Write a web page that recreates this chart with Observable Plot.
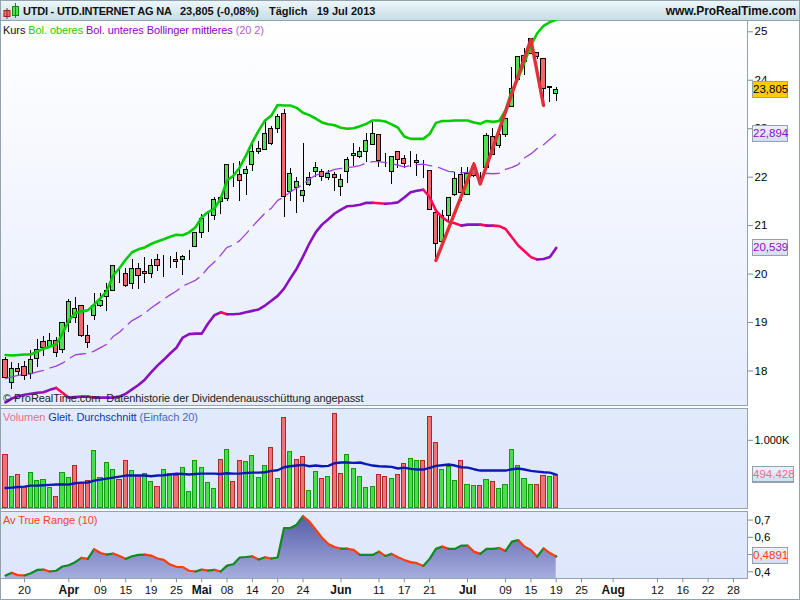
<!DOCTYPE html>
<html lang="de">
<head>
<meta charset="utf-8">
<script src="https://cdn.jsdelivr.net/npm/d3@7"></script>
<script src="https://cdn.jsdelivr.net/npm/@observablehq/plot@0.6"></script>
<style>
  html,body{margin:0;padding:0;background:#fff;overflow:hidden}
  #page{position:relative;width:800px;height:600px;overflow:hidden;font:11px "Liberation Sans",Arial,sans-serif;color:#111}
  .abs{position:absolute;white-space:pre}
  .panel{position:absolute;left:0;width:748px;box-sizing:border-box;border:1px solid #93a3ae}
  .plot{position:absolute;left:0}
  .plot svg{display:block}
  .tag{position:absolute;box-sizing:border-box;height:17px;line-height:15px;text-align:center;border:1px solid #93a3ae;white-space:pre;font-size:11.5px}
  .leg{letter-spacing:-0.08px;font-size:11px}
  .hd{font-weight:bold;top:5px;font-size:11px}
</style>
</head>
<body>
<div id="page">
  <svg width="0" height="0" style="position:absolute">
    <defs><linearGradient id="atrGrad" x1="0" y1="0" x2="0" y2="1">
      <stop offset="0" stop-color="#565ca8"/><stop offset="1" stop-color="#a6aedf"/>
    </linearGradient></defs>
  </svg>
  <div class="abs" style="left:0;top:0;width:800px;height:21px;box-sizing:border-box;border-top:1px solid #93a3ae;border-bottom:1px solid #93a3ae;background:linear-gradient(#edf7fa,#c6dde4)"></div>
  <svg class="abs" style="left:2px;top:2px" width="18" height="18">
    <rect x="2" y="8.5" width="6" height="6" fill="#ee6a6a" stroke="#a02020"/><path d="M5 6V17" stroke="#a02020"/>
    <rect x="10.5" y="4.5" width="6" height="9" fill="#55dd55" stroke="#118811"/><path d="M13.5 1V16" stroke="#118811"/>
  </svg>
  <div class="abs hd" style="left:23px;letter-spacing:-0.22px">UTDI - UTD.INTERNET AG NA</div>
  <div class="abs hd" style="left:180px">23,805 (-0,08%)</div>
  <div class="abs hd" style="left:269px">Täglich   19 Jul 2013</div>
  <div class="abs hd" style="right:4px;font-size:12px;letter-spacing:-0.1px;top:4px">www.ProRealTime.com</div>

  <div class="panel" style="top:20px;height:386px;background:linear-gradient(#ffffff,#e4ebfc)"></div>
  <div class="panel" style="top:408px;height:101px;background:linear-gradient(#e2eafd,#dde6fb)"></div>
  <div class="panel" style="top:511px;height:68px;background:linear-gradient(#e2eafd,#dde6fb)"></div>
  <div class="abs" style="left:799px;top:0;width:1px;height:600px;background:#93a3ae"></div>
  <div class="abs" style="left:0;top:0;width:1px;height:600px;background:#93a3ae"></div>
  <div class="abs" style="left:0;top:599px;width:800px;height:1px;background:#93a3ae"></div>

  <div class="plot" id="pricePlot" style="top:20px"></div>
  <div class="plot" id="volumePlot" style="top:408px"></div>
  <div class="plot" id="atrPlot" style="top:511.7px"></div>

  <div class="abs leg" style="left:3px;top:24px"><span style="color:#111">Kurs</span> <span style="color:#22cc00">Bol. oberes</span> <span style="color:#9000cc">Bol. unteres</span> <span style="color:#9000cc">Bollinger mittleres</span> <span style="color:#b060d8">(20 2)</span></div>
  <div class="abs leg" style="left:3px;top:392px;color:#222">© ProRealTime.com  Datenhistorie der Dividendenausschüttung angepasst</div>
  <div class="abs leg" style="left:3px;top:411px"><span style="color:#e8708a">Volumen</span> <span style="color:#1038b0">Gleit. Durchschnitt</span> <span style="color:#4a68c0">(Einfach 20)</span></div>
  <div class="abs leg" style="left:3px;top:514px;color:#ff4020">Av True Range (10)</div>
</div>
<script>
const open = [
18.23,17.75,18.05,18.09,17.93,18.24,18.59,18.50,18.61,18.44,
18.98,19.10,19.35,18.73,19.14,19.35,19.52,19.66,20.03,20.01,
19.80,20.11,20.05,20.01,20.28,20.22,20.27,20.29,20.28,20.45,
20.55,20.84,21.19,21.20,21.48,21.54,22.08,22.05,22.07,22.25,
22.51,22.55,23.00,23.00,23.31,21.70,21.77,21.62,21.83,22.10,
22.10,21.99,22.05,21.79,22.10,22.43,22.41,22.51,22.67,22.86,
22.32,22.10,22.51,22.38,22.30,22.34,22.10,22.12,21.25,20.67,
21.19,21.64,22.05,21.64,22.20,22.07,22.18,22.82,22.65,22.88,
23.44,24.01,24.51,24.86,24.57,24.43,23.87,23.71];
const close = [
17.85,18.05,17.97,17.89,18.22,18.44,18.48,18.61,18.38,18.98,
19.43,19.27,18.73,18.57,19.35,19.45,19.66,20.16,20.03,19.76,
20.11,19.95,20.01,20.16,20.16,20.22,20.27,20.25,20.36,20.45,
20.84,21.13,21.19,21.52,21.56,22.26,22.08,21.93,22.14,22.51,
22.59,22.90,22.69,23.25,21.58,22.07,21.91,21.72,21.99,22.18,
22.01,22.07,21.99,21.95,22.36,22.47,22.51,22.74,22.90,22.34,
22.32,22.41,22.36,22.28,22.30,22.30,22.10,21.33,20.63,21.19,
21.56,21.97,21.68,22.07,22.03,22.07,22.84,22.45,22.88,23.21,
23.81,24.47,24.37,24.55,24.47,23.81,23.83,23.805];
const high = [
18.28,18.17,18.15,18.19,18.42,18.65,18.71,18.77,18.69,19.00,
19.47,19.52,19.35,18.94,19.60,19.60,19.80,20.18,20.11,20.11,
20.30,20.22,20.34,20.30,20.40,20.38,20.36,20.44,20.38,20.49,
20.84,21.23,21.25,21.58,21.58,22.26,22.28,22.32,22.22,22.69,
22.74,23.15,23.05,23.29,23.40,22.17,21.99,22.69,22.10,22.30,
22.16,22.14,22.10,22.05,22.41,22.69,22.61,22.90,23.13,22.86,
22.49,22.41,22.51,22.45,22.53,22.47,22.34,22.12,21.25,21.31,
21.56,22.10,22.20,22.20,22.30,22.09,22.90,23.00,23.02,23.21,
24.26,24.47,24.66,24.86,24.57,24.43,23.87,23.85];
const low = [
17.82,17.62,17.89,17.80,17.82,18.07,18.30,18.46,18.28,18.36,
18.79,18.98,18.69,18.46,19.04,19.31,19.23,19.64,19.80,19.72,
19.68,19.68,19.80,19.91,20.05,19.93,20.11,20.11,19.97,20.28,
20.55,20.73,20.86,21.11,21.23,21.50,21.79,21.50,21.62,22.12,
22.47,22.55,22.65,22.90,21.17,21.50,21.25,21.48,21.81,21.99,
21.91,21.93,21.70,21.60,21.87,22.22,22.38,22.30,22.65,22.20,
22.20,21.85,22.18,22.18,22.20,22.01,21.97,21.33,20.28,20.63,
21.06,21.60,21.50,21.64,21.99,21.87,22.16,22.45,22.59,22.82,
23.44,24.00,24.10,24.55,24.43,23.48,23.54,23.56];
const bollUpper = [
18.33,18.32,18.33,18.34,18.34,18.40,18.46,18.50,18.55,18.77,
19.04,19.19,19.23,19.25,19.37,19.50,19.65,19.97,20.12,20.30,
20.45,20.51,20.55,20.62,20.67,20.72,20.77,20.81,20.80,20.86,
20.96,21.17,21.28,21.35,21.56,21.93,22.03,22.20,22.45,22.72,
22.96,23.17,23.27,23.49,23.48,23.48,23.43,23.33,23.28,23.21,
23.13,23.09,23.07,23.02,23.00,23.01,23.05,23.10,23.17,23.17,
23.15,23.09,23.02,22.84,22.79,22.79,22.79,22.89,23.12,23.16,
23.16,23.17,23.17,23.17,23.13,23.10,23.16,23.14,23.16,23.38,
23.79,24.04,24.37,24.72,24.97,25.12,25.20,25.25];
const bollLower = [
17.35,17.43,17.48,17.51,17.53,17.55,17.56,17.61,17.65,17.55,
17.45,17.46,17.47,17.47,17.45,17.45,17.45,17.45,17.47,17.53,
17.62,17.71,17.82,17.97,18.11,18.23,18.36,18.48,18.69,18.76,
18.77,18.77,18.98,19.15,19.21,19.17,19.17,19.18,19.21,19.24,
19.27,19.35,19.45,19.55,19.70,19.91,20.11,20.36,20.63,20.86,
21.02,21.13,21.25,21.33,21.40,21.41,21.43,21.47,21.47,21.46,
21.45,21.46,21.48,21.58,21.69,21.72,21.74,21.59,21.31,21.17,
21.08,21.05,21.00,21.02,21.02,21.02,21.00,21.00,20.99,20.93,
20.76,20.59,20.47,20.35,20.30,20.31,20.35,20.539];
const bollMid = [
17.84,17.88,17.91,17.93,17.94,17.98,18.01,18.06,18.10,18.16,
18.25,18.33,18.35,18.36,18.41,18.48,18.55,18.71,18.80,18.92,
19.04,19.11,19.19,19.30,19.39,19.48,19.57,19.65,19.75,19.81,
19.87,19.97,20.13,20.25,20.39,20.55,20.60,20.69,20.83,20.98,
21.12,21.26,21.36,21.52,21.59,21.70,21.77,21.85,21.96,22.04,
22.08,22.11,22.16,22.18,22.20,22.21,22.24,22.29,22.32,22.32,
22.30,22.28,22.25,22.21,22.24,22.26,22.27,22.24,22.22,22.17,
22.12,22.11,22.09,22.10,22.08,22.06,22.08,22.07,22.08,22.16,
22.20,22.26,22.40,22.48,22.59,22.67,22.78,22.894];
const zigzagBar = [68,74,75,83,85];
const zigzagPrice = [20.28,22.27,21.86,24.84,23.48];
const volume = [
780,464,494,316,523,405,420,301,168,523,
449,627,375,405,849,449,671,568,420,701,
553,479,508,390,316,568,508,479,597,242,
701,597,375,286,716,864,390,701,686,775,
449,627,879,434,1323,834,716,760,257,538,
434,464,1383,508,790,583,464,301,316,494,
464,434,494,656,731,701,701,1338,953,568,
612,405,701,345,331,331,420,390,286,345,
864,627,434,345,345,479,464,494.428];
const volumeSide = [
"r","g","r","r","g","g","g","g","r","g",
"g","r","r","r","g","g","g","g","r","r",
"g","r","g","g","r","g","g","r","g","g",
"g","g","g","g","r","g","r","r","g","g",
"g","g","r","g","r","g","r","r","g","g",
"r","g","r","r","g","g","g","g","g","r",
"r","g","r","r","g","g","r","r","r","g",
"g","g","r","g","g","r","g","r","g","g",
"g","g","g","g","r","r","g","r"];
const volumeAvg = [
296,301,311,316,331,331,336,341,346,346,
346,365,375,375,405,420,434,449,464,479,
479,479,479,469,479,484,494,508,503,494,
503,508,508,508,503,513,508,508,518,523,
523,528,548,558,602,617,627,637,617,627,
617,622,662,672,672,667,672,647,627,617,
612,607,583,597,578,568,568,592,622,632,
642,627,602,597,573,553,553,553,553,553,
573,583,568,548,538,528,523,494];
const atr = [
.378,.394,.380,.379,.392,.411,.413,.402,.406,.431,
.438,.456,.481,.475,.531,.509,.500,.506,.492,.475,
.490,.498,.500,.494,.477,.469,.442,.429,.427,.406,
.402,.413,.407,.411,.402,.436,.444,.483,.486,.490,
.471,.484,.477,.483,.654,.654,.673,.723,.692,.644,
.598,.561,.544,.534,.534,.527,.498,.498,.498,.517,
.492,.504,.484,.469,.456,.450,.434,.475,.533,.546,
.533,.533,.552,.552,.517,.504,.533,.533,.538,.521,
.575,.584,.546,.527,.488,.536,.509,.4891];
const dayTicks = [3,15,19,23,27,35,39,43,47,59,63,67,79,83,87,91,103,107,111,115];
const dayLabels = ["20","09","15","19","25","08","14","20","24","11","17","21","09","15","19","25","12","16","22","28"];
const monthTicks = [10,31,53,73,96];
const monthLabels = ["Apr","Mai","Jun","Jul","Aug"];
const priceTicks = [18,19,20,21,22,23,24,25];
const atrTicks = [0.4,0.5,0.6,0.7];

const FONT = '"Liberation Sans",Arial,sans-serif';
const bars = d3.range(close.length);
const xOpts = {domain:[-0.632,117.22],axis:null};
const base = {width:800,marginLeft:1,marginRight:53,marginTop:0,marginBottom:0,
  color:{type:"identity"},
  style:{fontFamily:FONT,fontSize:"11.5px",background:"transparent",color:"#111",overflow:"visible"}};
const half = 0.33;
const trendColor = (s,up,down) => i => (s[i+1] ?? s[i]) >= s[i] ? up : down;

const price = Plot.plot({...base,height:385,
  x:xOpts,y:{domain:[17.287,25.233],axis:null},
  marks:[
    Plot.axisY(priceTicks,{anchor:"right",tickSize:5,tickPadding:2,label:null,fontSize:11.5,stroke:"#7c8c96",fill:"#000",tickFormat:d=>String(d)}),
    Plot.ruleX(bars,{x:i=>i,y1:i=>low[i],y2:i=>high[i],stroke:"#000",strokeWidth:1,shapeRendering:"crispEdges",clip:true}),
    Plot.rect(bars,{x1:i=>i-half,x2:i=>i+half,y1:i=>open[i],y2:i=>close[i],
      fill:i=>close[i]>=open[i]?"#55dd55":"#ee6a6a",stroke:"#000",strokeWidth:1,shapeRendering:"crispEdges",clip:true}),
    Plot.line(bars,{x:i=>i,y:i=>bollMid[i],stroke:"#a040dc",strokeWidth:1.3,strokeDasharray:"16,7",clip:true}),
    Plot.line(bars,{x:i=>i,y:i=>bollLower[i],z:null,stroke:trendColor(bollLower,"#8a10c0","#ff0a58"),strokeWidth:2.6,clip:true}),
    Plot.line(bars,{x:i=>i,y:i=>bollUpper[i],stroke:"#00cc00",strokeWidth:2.6,clip:true}),
    Plot.line(zigzagBar,{x:d=>d,y:(d,i)=>zigzagPrice[i],stroke:"#e03038",strokeWidth:3.4,clip:true})
  ]});
document.getElementById("pricePlot").appendChild(price);

const vol = Plot.plot({...base,height:100.3,
  x:xOpts,y:{domain:[-12,1470],axis:null},
  marks:[
    Plot.axisY([1000],{anchor:"right",tickSize:5,tickPadding:2,label:null,fontSize:11,stroke:"#7c8c96",fill:"#000",tickFormat:()=>"1.000K"}),
    Plot.rect(bars,{x1:i=>i-half,x2:i=>i+half,y1:()=>0,y2:i=>volume[i],
      fill:i=>volumeSide[i]==="g"?"#48e048":"#f07272",stroke:i=>volumeSide[i]==="g"?"#139a13":"#a82c2c",strokeWidth:1,shapeRendering:"crispEdges"}),
    Plot.line(bars,{x:i=>i,y:i=>volumeAvg[i],stroke:"#0a18b4",strokeWidth:2.4})
  ]});
document.getElementById("volumePlot").appendChild(vol);

const atrBottom = 0.3595;
const atrChart = Plot.plot({...base,height:87.3,marginBottom:21,
  x:xOpts,y:{domain:[atrBottom,0.744],axis:null},
  marks:[
    Plot.axisY(atrTicks,{anchor:"right",tickSize:5,tickPadding:2,label:null,fontSize:11.5,stroke:"#7c8c96",fill:"#000",tickFormat:d=>String(d).replace(".",",")}),
    Plot.axisX(dayTicks,{anchor:"bottom",tickSize:4,tickPadding:3,label:null,fontSize:11.5,stroke:"#7c8c96",fill:"#111",tickFormat:d=>dayLabels[dayTicks.indexOf(d)]}),
    Plot.axisX(monthTicks,{anchor:"bottom",tickSize:4,tickPadding:3,label:null,fontSize:12,fontWeight:"bold",stroke:"#7c8c96",fill:"#111",tickFormat:d=>monthLabels[monthTicks.indexOf(d)]}),
    Plot.areaY(bars,{x:i=>i,y1:()=>atrBottom,y2:i=>atr[i],fill:"url(#atrGrad)"}),
    Plot.line(bars,{x:i=>i,y:i=>atr[i],z:null,stroke:trendColor(atr,"#118a22","#ff3c0a"),strokeWidth:2.2})
  ]});
document.getElementById("atrPlot").appendChild(atrChart);

const page = document.getElementById("page");
function tag(text,top,width,color,bg,extra){
  const d = document.createElement("div");
  d.className = "tag"; d.textContent = text;
  d.style.cssText = `left:752px;top:${top-8.5}px;width:${width}px;color:${color};background:${bg};${extra||""}`;
  page.appendChild(d);
}
const py = v => 20 + price.scale("y").apply(v);
const vy = v => 408 + vol.scale("y").apply(v);
const ay = v => 511.7 + atrChart.scale("y").apply(v);
const tagBg = "linear-gradient(#eef1fc,#d6dcf2)";
tag("23,805",py(close[87]),36,"#000","#ffcc00");
tag("22,894",py(bollMid[87]),36,"#8a10c8",tagBg);
tag("20,539",py(bollLower[87]),36,"#8a10c8",tagBg);
tag("494.428",vy(volume[87]),42,"#e8708a",tagBg,"border-bottom-width:2px;");
tag("0,4891",ay(atr[87]),36,"#ff3c0a",tagBg);
</script>
</body>
</html>
